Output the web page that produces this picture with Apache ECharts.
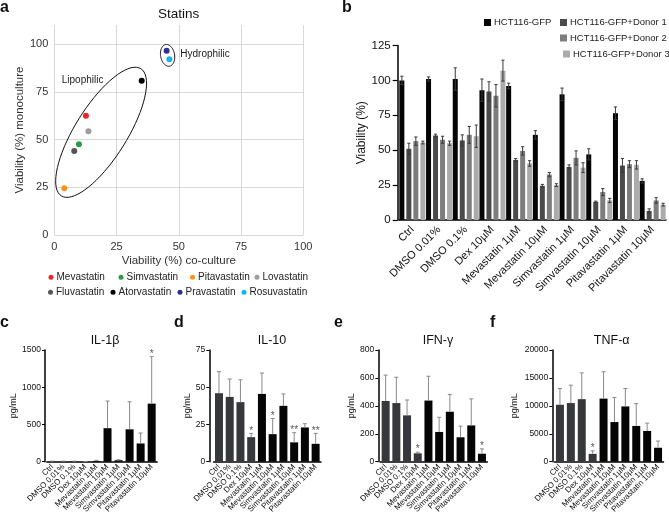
<!DOCTYPE html>
<html><head><meta charset="utf-8">
<script src="https://cdn.jsdelivr.net/npm/echarts@6/dist/echarts.min.js"></script>
<style>html,body{margin:0;padding:0;background:#fff}#c{width:669px;height:520px}</style>
</head><body><div id="c"></div>
<script>
const FONT = '"Liberation Sans", Arial, Helvetica, sans-serif';

// ---------- Panel a: statins scatter ----------
const statinNames  = ['Mevastatin','Simvastatin','Pitavastatin','Lovastatin','Fluvastatin','Atorvastatin','Pravastatin','Rosuvastatin'];
const statinColors = ['#e8262b','#2e9a48','#f7941d','#9d9d9d','#555555','#000000','#2e3192','#13b5ea'];
const coCulture    = [12.7, 9.9, 4.0, 13.7, 8.0, 35.1, 45.1, 46.2];
const monoculture  = [62.5, 47.5, 24.5, 54.3, 44.0, 80.8, 96.5, 92.0];
const ticksAX = [0, 25, 50, 75, 100];
const ticksAY = [0, 25, 50, 75, 100];
const groupLabels = ['Lipophilic', 'Hydrophilic'];
const groupLabelX = [3.0, 50.6];
const groupLabelY = [81.0, 94.5];
const ellipseCX = [18.8, 45.5];
const ellipseCY = [53.8, 94.1];

// ---------- Panel b: viability ----------
const conditions = ['Ctrl','DMSO 0.01%','DMSO 0.1%','Dex 10\u00b5M','Mevastatin 1\u00b5M','Mevastatin 10\u00b5M','Simvastatin 1\u00b5M','Simvastatin 10\u00b5M','Pitavastatin 1\u00b5M','Pitavastatin 10\u00b5M'];
const cellLines = ['HCT116-GFP','HCT116-GFP+Donor 1','HCT116-GFP+Donor 2','HCT116-GFP+Donor 3'];
const viabGFP  = [100, 101, 101, 93, 96, 61, 90, 47, 76.5, 28];
const errGFP   = [3, 1.5, 8, 8, 2, 3, 4.5, 4, 4.5, 1.5];
const viabD1   = [51, 60.5, 57, 92, 43, 24.5, 38, 13, 39, 6.5];
const errD1    = [4, 1, 4, 7, 1, 1, 1.5, 0.5, 5, 1.5];
const viabD2   = [56.5, 57.5, 61, 89, 49.5, 32.5, 44.5, 20, 40, 14];
const errD2    = [3, 2.5, 6, 8, 3, 1.5, 5, 2.5, 2.5, 2];
const viabD3   = [55.5, 55, 60, 107, 40.5, 25, 37.5, 14, 39.5, 11];
const errD3    = [1, 1.5, 8, 7.5, 2, 1, 3.5, 1.5, 3, 1];
const ticksB = [0, 25, 50, 75, 100, 125];

// ---------- Panels c-f: cytokines ----------
const il1bMean = [5, 5, 5, 2, 10, 450, 20, 435, 245, 780];
const il1bErr  = [3, 3, 3, 1, 8, 365, 6, 370, 140, 630];
const il1bStar = ['','','','','','','','','','*'];
const il1bTicks = [0, 500, 1000, 1500];

const il10Mean = [46, 43.5, 40, 16.5, 45.5, 18.5, 37.5, 13, 23, 12];
const il10Err  = [14.5, 12, 15, 2.5, 14, 10.5, 8, 6.5, 2.5, 7];
const il10Star = ['','','','*','','*','','**','','**'];
const il10Ticks = [0, 25, 50, 75];

const ifngMean = [435, 420, 332, 60, 438, 213, 358, 175, 260, 57];
const ifngErr  = [185, 185, 110, 8, 174, 105, 124, 80, 190, 35];
const ifngStar = ['','','','*','','','','','','*'];
const ifngTicks = [0, 200, 400, 600, 800];

const tnfaMean = [10200, 10500, 11200, 1400, 11300, 7100, 9900, 6400, 5500, 2500];
const tnfaErr  = [2900, 3200, 4700, 550, 4800, 4400, 3200, 4000, 1400, 1200];
const tnfaStar = ['','','','*','','','','','',''];
const tnfaTicks = [0, 5000, 10000, 15000, 20000];

const cytoTitles = ['IL-1\u03b2', 'IL-10', 'IFN-\u03b3', 'TNF-\u03b1'];

// ---------- styling / layout ----------
const chart = echarts.init(document.getElementById('c'), null, {renderer: 'canvas'});

const ellipseShapes = [{rx: 75, ry: 26, rot: 58}, {rx: 7, ry: 11, rot: 10}];
function ellipsePoints(c, e) {
  const th = e.rot * Math.PI / 180, pts = [];
  for (let k = 0; k <= 72; k++) {
    const t = k / 72 * 2 * Math.PI;
    const ux = e.rx * Math.cos(t), uy = e.ry * Math.sin(t);
    pts.push([c[0] + ux * Math.cos(th) - uy * Math.sin(th), c[1] - (ux * Math.sin(th) + uy * Math.cos(th))]);
  }
  return pts;
}

const bGreys = ['#050505', '#4a4a4c', '#7d7d7d', '#ababab'];
const bVals = [viabGFP, viabD1, viabD2, viabD3];
const bErrs = [errGFP, errD1, errD2, errD3];

const cyto = [
  {mean: il1bMean, err: il1bErr, star: il1bStar, ticks: il1bTicks, grid: {left: 46.8, width: 110.4}, axisX: 45, nameGap: 27, title: 105},
  {mean: il10Mean, err: il10Err, star: il10Star, ticks: il10Ticks, grid: {left: 213.6, width: 107.4}, axisX: 209.3, nameGap: 16, title: 272},
  {mean: ifngMean, err: ifngErr, star: ifngStar, ticks: ifngTicks, grid: {left: 380.3, width: 107}, axisX: 378.3, nameGap: 21, title: 438},
  {mean: tnfaMean, err: tnfaErr, star: tnfaStar, ticks: tnfaTicks, grid: {left: 554.5, width: 109}, axisX: 552.3, nameGap: 33, title: 611.7}
];

const grids = [
  {left: 54.3, top: 25, width: 249, height: 210},
  {left: 399, top: 45.5, width: 267, height: 174.5}
];
cyto.forEach(c => grids.push({left: c.grid.left, width: c.grid.width, top: 350, height: 111.7}));
grids.forEach(g => { g.containLabel = false; g.outerBoundsMode = 'none'; });

const xAxes = [
  {gridIndex: 0, type: 'value', min: ticksAX[0], max: ticksAX[ticksAX.length - 1], interval: ticksAX[1] - ticksAX[0],
   axisLine: {show: false}, axisTick: {show: false},
   splitLine: {show: true, lineStyle: {color: '#d9d9d9', width: 1}},
   axisLabel: {fontSize: 11, color: '#333', fontFamily: FONT, margin: 6},
   name: 'Viability (%) co-culture', nameLocation: 'middle', nameGap: 20,
   nameTextStyle: {fontSize: 11.5, color: '#333', fontFamily: FONT}},
  {gridIndex: 1, type: 'category', data: conditions,
   axisLine: {lineStyle: {color: '#000', width: 1.5}},
   axisTick: {alignWithLabel: true, length: 5, lineStyle: {color: '#000', width: 1.2}},
   axisLabel: {rotate: 45, interval: 0, fontSize: 11, color: '#111', fontFamily: FONT, margin: 8}}
];
const yAxes = [
  {gridIndex: 0, type: 'value', min: 0, max: 110, interval: ticksAY[1] - ticksAY[0],
   axisLine: {show: false}, axisTick: {show: false},
   splitLine: {show: true, showMaxLine: false, lineStyle: {color: '#d9d9d9', width: 1}},
   axisLabel: {fontSize: 11, color: '#333', fontFamily: FONT, margin: 6, showMaxLabel: false},
   name: 'Viability (%) monoculture', nameLocation: 'middle', nameGap: 25,
   nameTextStyle: {fontSize: 11.5, color: '#333', fontFamily: FONT}},
  {gridIndex: 1, type: 'value', min: ticksB[0], max: ticksB[ticksB.length - 1], interval: ticksB[1] - ticksB[0], offset: 1.3,
   axisLine: {show: true, lineStyle: {color: '#000', width: 1.5}},
   axisTick: {show: true, length: 5, lineStyle: {color: '#000', width: 1.2}},
   splitLine: {show: false},
   axisLabel: {fontSize: 11.5, color: '#111', fontFamily: FONT, margin: 7},
   name: 'Viability (%)', nameLocation: 'middle', nameGap: 28,
   nameTextStyle: {fontSize: 12, color: '#111', fontFamily: FONT}}
];
cyto.forEach((c, k) => {
  xAxes.push({gridIndex: 2 + k, type: 'category', data: conditions,
    axisLine: {lineStyle: {color: '#000', width: 1.5}},
    axisTick: {alignWithLabel: true, length: 3, lineStyle: {color: '#000', width: 1}},
    axisLabel: {rotate: 45, interval: 0, fontSize: 8, color: '#111', fontFamily: FONT, margin: 4}});
  yAxes.push({gridIndex: 2 + k, type: 'value', min: c.ticks[0], max: c.ticks[c.ticks.length - 1], interval: c.ticks[1] - c.ticks[0],
    offset: c.grid.left - c.axisX,
    axisLine: {show: true, lineStyle: {color: '#000', width: 1.5}},
    axisTick: {show: true, length: 3, lineStyle: {color: '#000', width: 1}},
    splitLine: {show: false},
    axisLabel: {fontSize: 8.5, color: '#111', fontFamily: FONT, margin: 4, formatter: v => String(v)},
    name: 'pg/mL', nameLocation: 'middle', nameGap: c.nameGap,
    nameTextStyle: {fontSize: 9, color: '#111', fontFamily: FONT}});
});

const series = [];
// panel a scatter
statinNames.forEach((n, i) => {
  series.push({type: 'scatter', name: n, xAxisIndex: 0, yAxisIndex: 0, symbol: 'circle', symbolSize: 6,
    itemStyle: {color: statinColors[i], opacity: 1}, data: [[coCulture[i], monoculture[i]]], z: 5});
});
series.push({type: 'custom', name: 'ellipses', xAxisIndex: 0, yAxisIndex: 0, z: 4,
  data: ellipseCX.map((x, i) => [x, ellipseCY[i]]),
  renderItem: (params, api) => {
    const c = api.coord([api.value(0), api.value(1)]);
    return {type: 'polygon', shape: {points: ellipsePoints(c, ellipseShapes[params.dataIndex])},
      style: {fill: 'none', stroke: '#111', lineWidth: 1}};
  }});
series.push({type: 'custom', name: 'groupLabels', xAxisIndex: 0, yAxisIndex: 0, z: 6,
  data: groupLabelX.map((x, i) => [x, groupLabelY[i]]),
  renderItem: (params, api) => {
    const c = api.coord([api.value(0), api.value(1)]);
    return {type: 'text', x: c[0], y: c[1],
      style: {text: groupLabels[params.dataIndex], fill: '#222', font: '10px ' + FONT, align: 'left', verticalAlign: 'middle'}};
  }});

// panel b bars + error bars
const bBarW = 5, bGap = 2;
cellLines.forEach((n, s) => {
  series.push({type: 'bar', name: n, xAxisIndex: 1, yAxisIndex: 1, barWidth: bBarW, barGap: (bGap / bBarW * 100) + '%',
    itemStyle: {color: bGreys[s]}, data: bVals[s]});
});
cellLines.forEach((n, s) => {
  const off = (s - 1.5) * (bBarW + bGap);
  series.push({type: 'custom', name: n + ' err', xAxisIndex: 1, yAxisIndex: 1, z: 5,
    data: bVals[s].map((v, i) => [i, v, bErrs[s][i]]),
    renderItem: (params, api) => {
      const x = api.value(0), m = api.value(1), e = api.value(2);
      const t = api.coord([x, m + e]), b = api.coord([x, m - e]);
      const px = t[0] + off, st = {stroke: '#3a3a3a', lineWidth: 1};
      return {type: 'group', children: [
        {type: 'line', shape: {x1: px, y1: t[1], x2: px, y2: b[1]}, style: st},
        {type: 'line', shape: {x1: px - 1.6, y1: t[1], x2: px + 1.6, y2: t[1]}, style: st},
        {type: 'line', shape: {x1: px - 1.6, y1: b[1], x2: px + 1.6, y2: b[1]}, style: st}
      ]};
    }});
});

// panels c-f
cyto.forEach((c, k) => {
  series.push({type: 'bar', name: cytoTitles[k], xAxisIndex: 2 + k, yAxisIndex: 2 + k, barWidth: 8,
    itemStyle: {color: p => p.dataIndex < 4 ? '#37383b' : '#050505'}, data: c.mean});
  series.push({type: 'custom', name: cytoTitles[k] + ' err', xAxisIndex: 2 + k, yAxisIndex: 2 + k, z: 5,
    data: c.mean.map((m, i) => [i, m, c.err[i]]),
    renderItem: (params, api) => {
      const x = api.value(0), m = api.value(1), e = api.value(2);
      const p0 = api.coord([x, m]), p1 = api.coord([x, m + e]);
      const st = {stroke: '#8a8a8a', lineWidth: 1};
      const ch = [
        {type: 'line', shape: {x1: p0[0], y1: p0[1], x2: p1[0], y2: p1[1]}, style: st},
        {type: 'line', shape: {x1: p1[0] - 2, y1: p1[1], x2: p1[0] + 2, y2: p1[1]}, style: st}
      ];
      const s = c.star[params.dataIndex];
      if (s) ch.push({type: 'text', x: p1[0], y: p1[1] - 2.5,
        style: {text: s, fill: '#555', font: '10px ' + FONT, align: 'center', verticalAlign: 'middle'}});
      return {type: 'group', children: ch};
    }});
});

// legends
function leg(name, left, top, icon, size, fs) {
  return {data: [name], left, top, padding: 0, itemWidth: size, itemHeight: size, icon, itemGap: 0,
    selectedMode: false, textStyle: {fontSize: fs, fontFamily: FONT, color: '#222', padding: [0, 0, 0, -2]}};
}
const legendA = [[48.5, 272.3], [118.5, 272.3], [190, 272.3], [254.5, 272.3], [48, 287.3], [110.5, 287.3], [177.5, 287.3], [241.5, 287.3]];
const legendB = [[484, 17.5], [560, 17.5], [560, 33], [563, 49]];
const legends = [];
statinNames.forEach((n, i) => legends.push(leg(n, legendA[i][0], legendA[i][1], 'circle', 5, 10)));
cellLines.forEach((n, i) => legends.push(leg(n, legendB[i][0], legendB[i][1], 'rect', 7, 9.5)));

// static texts
function txt(t, x, y, size, bold, align) {
  return {type: 'text', x, y, style: {text: t, fill: '#111', font: (bold ? 'bold ' : '') + size + 'px ' + FONT,
    align: align || 'center', verticalAlign: 'middle'}};
}
const graphic = [
  txt('a', 0, 8, 16, true, 'left'), txt('b', 342, 8, 16, true, 'left'),
  txt('c', 0, 323, 16, true, 'left'), txt('d', 174, 323, 16, true, 'left'),
  txt('e', 334, 323, 16, true, 'left'), txt('f', 490, 323, 16, true, 'left'),
  txt('Statins', 178.7, 14.5, 13.5, false)
];
cyto.forEach((c, k) => graphic.push(txt(cytoTitles[k], c.title, 341, 12.5, false)));

chart.setOption({
  animation: false,
  backgroundColor: '#fff',
  textStyle: {fontFamily: FONT},
  grid: grids, xAxis: xAxes, yAxis: yAxes, series, legend: legends, graphic
});
</script></body></html>
